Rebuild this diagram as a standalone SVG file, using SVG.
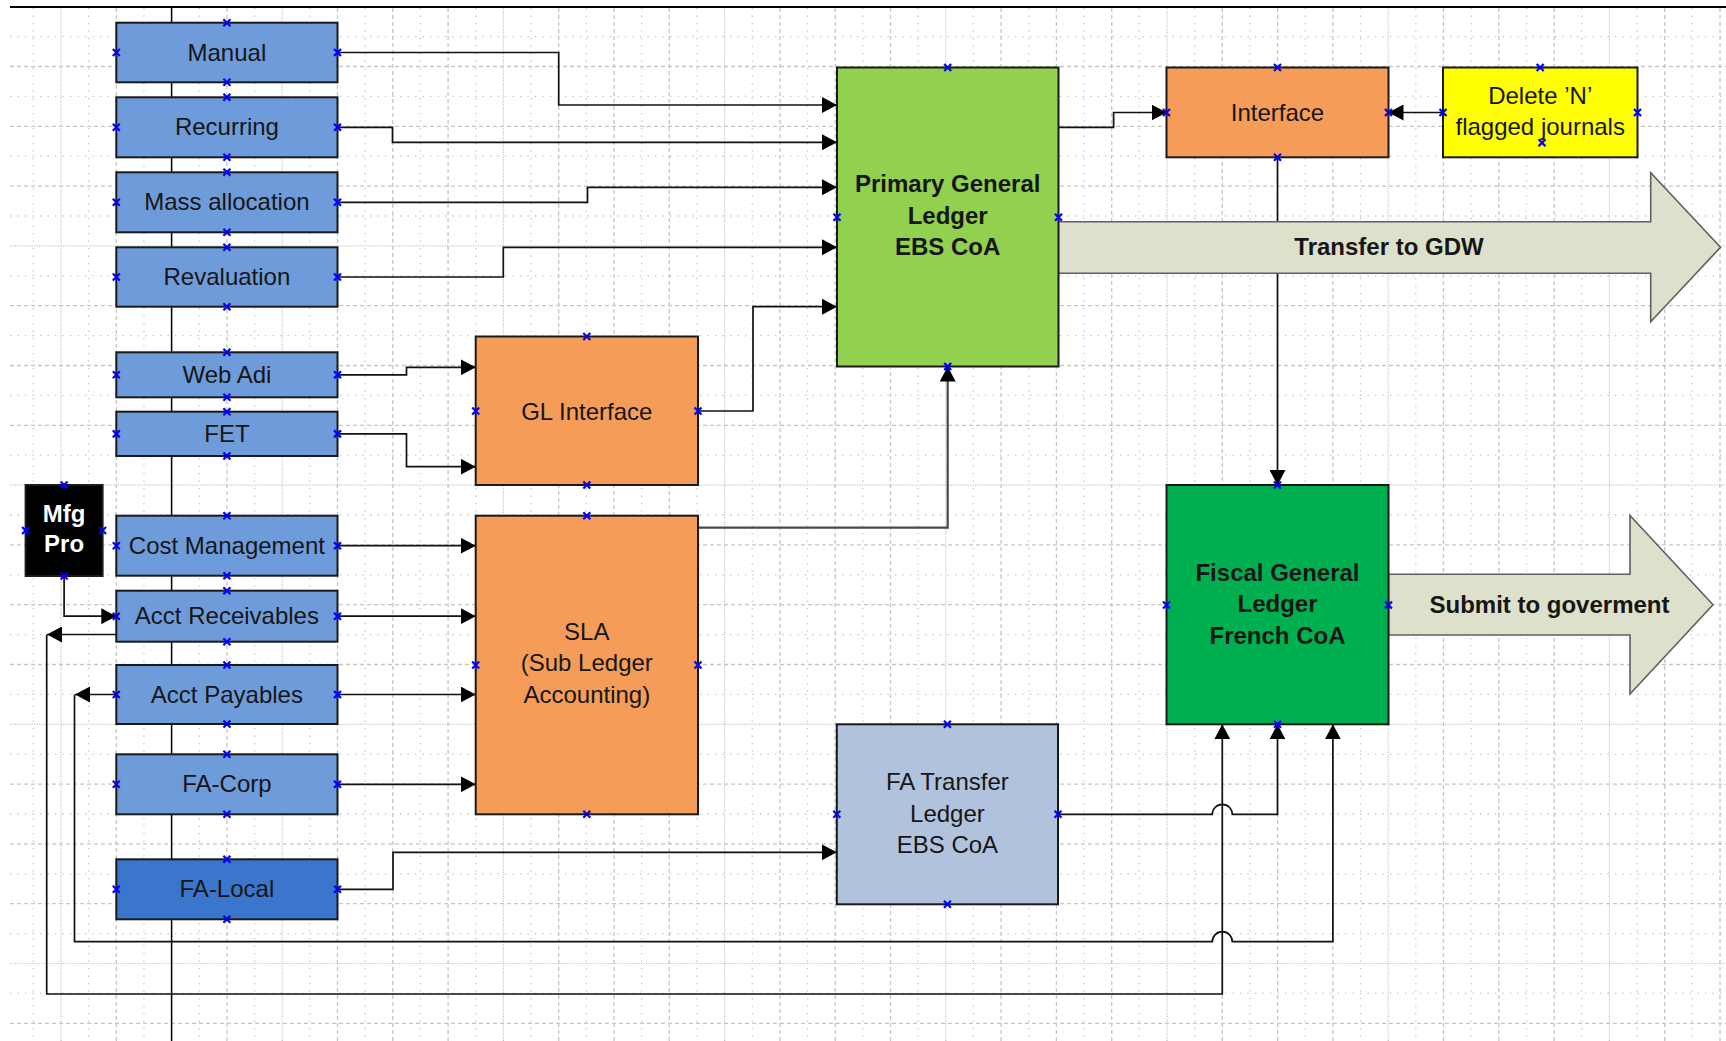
<svg xmlns="http://www.w3.org/2000/svg" width="1726" height="1041" viewBox="0 0 1726 1041">
<defs>
<style>
.g1{fill:none;stroke:#c2c2c2;stroke-width:1.3;stroke-dasharray:1.3 6.2}
.g2{fill:none;stroke:#c6c6c6;stroke-width:1.3;stroke-dasharray:4 3}
.g3{fill:none;stroke:#c2c2c2;stroke-width:1.2;stroke-dasharray:1.1 1.3}
.box{stroke:#1a1a1a;stroke-width:2}
.blue{fill:#6E9CDA}
.dblue{fill:#3A76CC}
.orange{fill:#F59D58}
.lgreen{fill:#92D050}
.green{fill:#00B050}
.yellow{fill:#FFFF00}
.steel{fill:#B1C3DC}
.black{fill:#000}
.bigarrow{fill:#DDE0CA;stroke:#5f5f5f;stroke-width:1.6}
.t{font-family:"Liberation Sans",Arial,Helvetica,sans-serif;font-size:24px;fill:#161616;text-anchor:middle}
.b{font-weight:bold}
.w{fill:#fff}
.c{fill:none;stroke:#111;stroke-width:1.7}
.cp{fill:none;stroke:#0000ff;stroke-width:2.2}
</style>
<marker id="ah" markerUnits="userSpaceOnUse" markerWidth="16" markerHeight="16" refX="15" refY="8" orient="auto" viewBox="0 0 16 16"><path d="M0,0L15,8L0,16z" fill="#000"/></marker>
<path id="cp" d="M-3.5,-3.5L3.5,3.5M3.5,-3.5L-3.5,3.5" class="cp"/>
</defs>
<rect x="0" y="0" width="1726" height="1041" fill="#fff"/>
<g id="grid">
<path class="g1" d="M33.35 8V1041M88.65 8V1041M143.95 8V1041M199.25 8V1041M254.55 8V1041M309.85 8V1041M365.15 8V1041M420.45 8V1041M475.75 8V1041M531.05 8V1041M586.35 8V1041M641.65 8V1041M696.95 8V1041M752.25 8V1041M807.55 8V1041M862.85 8V1041M918.15 8V1041M973.45 8V1041M1028.75 8V1041M1084.05 8V1041M1139.35 8V1041M1194.65 8V1041M1249.95 8V1041M1305.25 8V1041M1360.55 8V1041M1415.85 8V1041M1471.15 8V1041M1526.45 8V1041M1581.75 8V1041M1637.05 8V1041M1692.35 8V1041M10 36.6H1726M10 96.4H1726M10 156.2H1726M10 216H1726M10 275.8H1726M10 335.6H1726M10 395.4H1726M10 455.2H1726M10 515H1726M10 574.8H1726M10 634.6H1726M10 694.4H1726M10 754.2H1726M10 814H1726M10 873.8H1726M10 933.6H1726M10 993.4H1726"/>
<path class="g2" d="M116.3 8V1041M171.6 8V1041M226.9 8V1041M337.5 8V1041M392.8 8V1041M448.1 8V1041M558.7 8V1041M614 8V1041M669.3 8V1041M779.9 8V1041M835.2 8V1041M890.5 8V1041M1001.1 8V1041M1056.4 8V1041M1111.7 8V1041M1222.3 8V1041M1277.6 8V1041M1332.9 8V1041M1443.5 8V1041M1498.8 8V1041M1554.1 8V1041M1664.7 8V1041M1720 8V1041M10 66.5H1726M10 126.3H1726M10 186.1H1726M10 305.7H1726M10 365.5H1726M10 425.3H1726M10 544.9H1726M10 604.7H1726M10 664.5H1726M10 784.1H1726M10 843.9H1726M10 903.7H1726M10 1023.3H1726"/>
<path class="g3" d="M61 8V1041M282.2 8V1041M503.4 8V1041M724.6 8V1041M945.8 8V1041M1167 8V1041M1388.2 8V1041M1609.4 8V1041M10 245.9H1726M10 485.1H1726M10 724.3H1726M10 963.5H1726"/>
<path d="M10 7H1726" stroke="#000" stroke-width="2"/>
<path d="M171.6 7V1041" stroke="#000" stroke-width="1.5"/>
</g>
<g id="connectors" class="c">
<path d="M337.5,52.5H558.7V105H837" marker-end="url(#ah)"/>
<path d="M337.5,127.3H392.5V142.3H837" marker-end="url(#ah)"/>
<path d="M337.5,202.3H587.5V187.3H837" marker-end="url(#ah)"/>
<path d="M337.5,277H503.3V247.3H837" marker-end="url(#ah)"/>
<path d="M698,411H753V306.7H837" marker-end="url(#ah)"/>
<path d="M337.5,374.8H406.5V367.3H475.7" marker-end="url(#ah)"/>
<path d="M337.5,433.9H406.5V466.7H475.7" marker-end="url(#ah)"/>
<path d="M337.5,545.7H475.7" marker-end="url(#ah)"/>
<path d="M337.5,616.2H475.7" marker-end="url(#ah)"/>
<path d="M337.5,694.5H475.7" marker-end="url(#ah)"/>
<path d="M337.5,784.3H475.7" marker-end="url(#ah)"/>
<path d="M337.5,889.3H393V852.3H836.8" marker-end="url(#ah)"/>
<path d="M698,575V527.7H947.7V366.5" stroke="#4a4a4a" stroke-width="2.2" marker-end="url(#ah)"/>
<path d="M1058.5,127.3H1113.6V112.5H1166.5" marker-end="url(#ah)"/>
<path d="M1443,112.5H1388.5" marker-end="url(#ah)"/>
<path d="M1277.5,157.3V485" marker-end="url(#ah)"/>
<path d="M1058,814.3H1212.3A10,10 0 0 1 1232.3,814.3H1277.5V724.3" marker-end="url(#ah)"/>
<path d="M64.1,576V616.2H116.3" marker-end="url(#ah)"/>
<path d="M116.3,634.5H47" marker-end="url(#ah)"/>
<path d="M46.7,634.5V994H1222.3V724.3" marker-end="url(#ah)"/>
<path d="M116.3,694.5H75" marker-end="url(#ah)"/>
<path d="M74.5,694.5V941.7H1212.3A10,10 0 0 1 1232.3,941.7H1332.9V724.3" marker-end="url(#ah)"/>
</g>
<g id="transfer-gdw">
<polygon class="bigarrow" points="1058,221.7 1650.7,221.7 1650.7,172.7 1720.5,247.3 1650.7,321.7 1650.7,273.3 1058,273.3"/>
<text class="t b" x="1389" y="254.5">Transfer to GDW</text>
</g>
<g id="submit-gov">
<polygon class="bigarrow" points="1388.5,574.3 1630,574.3 1630,515.5 1713,604.7 1630,694 1630,635 1388.5,635"/>
<text class="t b" x="1549.5" y="612.5">Submit to goverment</text>
</g>
<g id="manual">
<rect class="box blue" x="116.3" y="22.7" width="221.2" height="59.6"/>
<text class="t" x="226.9" y="60.5">Manual</text>
<use href="#cp" x="226.9" y="22.7"/><use href="#cp" x="226.9" y="82.3"/><use href="#cp" x="116.3" y="52.5"/><use href="#cp" x="337.5" y="52.5"/>
</g>
<g id="recurring">
<rect class="box blue" x="116.3" y="97.3" width="221.2" height="60"/>
<text class="t" x="226.9" y="135.3">Recurring</text>
<use href="#cp" x="226.9" y="97.3"/><use href="#cp" x="226.9" y="157.3"/><use href="#cp" x="116.3" y="127.3"/><use href="#cp" x="337.5" y="127.3"/>
</g>
<g id="mass-allocation">
<rect class="box blue" x="116.3" y="172.3" width="221.2" height="60"/>
<text class="t" x="226.9" y="210.3">Mass allocation</text>
<use href="#cp" x="226.9" y="172.3"/><use href="#cp" x="226.9" y="232.3"/><use href="#cp" x="116.3" y="202.3"/><use href="#cp" x="337.5" y="202.3"/>
</g>
<g id="revaluation">
<rect class="box blue" x="116.3" y="247.3" width="221.2" height="59.4"/>
<text class="t" x="226.9" y="285">Revaluation</text>
<use href="#cp" x="226.9" y="247.3"/><use href="#cp" x="226.9" y="306.7"/><use href="#cp" x="116.3" y="277"/><use href="#cp" x="337.5" y="277"/>
</g>
<g id="web-adi">
<rect class="box blue" x="116.3" y="352.3" width="221.2" height="45"/>
<text class="t" x="226.9" y="382.8">Web Adi</text>
<use href="#cp" x="226.9" y="352.3"/><use href="#cp" x="226.9" y="397.3"/><use href="#cp" x="116.3" y="374.8"/><use href="#cp" x="337.5" y="374.8"/>
</g>
<g id="fet">
<rect class="box blue" x="116.3" y="411.7" width="221.2" height="44.3"/>
<text class="t" x="226.9" y="441.9">FET</text>
<use href="#cp" x="226.9" y="411.7"/><use href="#cp" x="226.9" y="456"/><use href="#cp" x="116.3" y="433.9"/><use href="#cp" x="337.5" y="433.9"/>
</g>
<g id="mfg-pro">
<rect class="box black" x="25.6" y="485" width="77" height="91"/>
<text class="t b w" x="64.1" y="521.7">Mfg</text>
<text class="t b w" x="64.1" y="552.3">Pro</text>
<use href="#cp" x="64.1" y="485"/><use href="#cp" x="64.1" y="576"/><use href="#cp" x="25.6" y="530.5"/><use href="#cp" x="102.6" y="530.5"/>
</g>
<g id="cost-management">
<rect class="box blue" x="116.3" y="515.7" width="221.2" height="60"/>
<text class="t" x="226.9" y="553.7">Cost Management</text>
<use href="#cp" x="226.9" y="515.7"/><use href="#cp" x="226.9" y="575.7"/><use href="#cp" x="116.3" y="545.7"/><use href="#cp" x="337.5" y="545.7"/>
</g>
<g id="acct-receivables">
<rect class="box blue" x="116.3" y="590.7" width="221.2" height="51"/>
<text class="t" x="226.9" y="624.2">Acct Receivables</text>
<use href="#cp" x="226.9" y="590.7"/><use href="#cp" x="226.9" y="641.7"/><use href="#cp" x="116.3" y="616.2"/><use href="#cp" x="337.5" y="616.2"/>
</g>
<g id="acct-payables">
<rect class="box blue" x="116.3" y="665" width="221.2" height="59"/>
<text class="t" x="226.9" y="702.5">Acct Payables</text>
<use href="#cp" x="226.9" y="665"/><use href="#cp" x="226.9" y="724"/><use href="#cp" x="116.3" y="694.5"/><use href="#cp" x="337.5" y="694.5"/>
</g>
<g id="fa-corp">
<rect class="box blue" x="116.3" y="754.3" width="221.2" height="60"/>
<text class="t" x="226.9" y="792.3">FA-Corp</text>
<use href="#cp" x="226.9" y="754.3"/><use href="#cp" x="226.9" y="814.3"/><use href="#cp" x="116.3" y="784.3"/><use href="#cp" x="337.5" y="784.3"/>
</g>
<g id="fa-local">
<rect class="box dblue" x="116.3" y="859.3" width="221.2" height="60"/>
<text class="t" x="226.9" y="897.3">FA-Local</text>
<use href="#cp" x="226.9" y="859.3"/><use href="#cp" x="226.9" y="919.3"/><use href="#cp" x="116.3" y="889.3"/><use href="#cp" x="337.5" y="889.3"/>
</g>
<g id="gl-interface">
<rect class="box orange" x="475.7" y="336.5" width="222.3" height="148.5"/>
<text class="t" x="586.8" y="420">GL Interface</text>
<use href="#cp" x="586.8" y="336.5"/><use href="#cp" x="586.8" y="485"/><use href="#cp" x="475.7" y="411"/><use href="#cp" x="698" y="411"/>
</g>
<g id="sla">
<rect class="box orange" x="475.7" y="515.7" width="222.3" height="298.6"/>
<text class="t" x="586.8" y="639.5">SLA</text>
<text class="t" x="586.8" y="671">(Sub Ledger</text>
<text class="t" x="586.8" y="703">Accounting)</text>
<use href="#cp" x="586.8" y="515.7"/><use href="#cp" x="586.8" y="814.3"/><use href="#cp" x="475.7" y="665"/><use href="#cp" x="698" y="665"/>
</g>
<g id="primary-gl">
<rect class="box lgreen" x="837" y="67.5" width="221.5" height="299"/>
<text class="t b" x="947.7" y="192">Primary General</text>
<text class="t b" x="947.7" y="223.5">Ledger</text>
<text class="t b" x="947.7" y="255">EBS CoA</text>
<use href="#cp" x="947.7" y="67.5"/><use href="#cp" x="947.7" y="366.5"/><use href="#cp" x="837" y="217.3"/><use href="#cp" x="1058.5" y="217.3"/>
</g>
<g id="interface">
<rect class="box orange" x="1166.5" y="67.5" width="222" height="89.8"/>
<text class="t" x="1277.5" y="120.5">Interface</text>
<use href="#cp" x="1277.5" y="67.5"/><use href="#cp" x="1277.5" y="157.3"/><use href="#cp" x="1166.5" y="112.5"/><use href="#cp" x="1388.5" y="112.5"/>
</g>
<g id="delete-n">
<rect class="box yellow" x="1443" y="67.5" width="194.5" height="89.8"/>
<text class="t" x="1540.2" y="103.5">Delete ’N’</text>
<text class="t" x="1540.2" y="135">flagged journals</text>
<use href="#cp" x="1540.2" y="67.5"/><use href="#cp" x="1542" y="142.7"/><use href="#cp" x="1443" y="112.5"/><use href="#cp" x="1637.5" y="112.5"/>
</g>
<g id="fiscal-gl">
<rect class="box green" x="1166.5" y="485" width="222" height="239.3"/>
<text class="t b" x="1277.5" y="580.5">Fiscal General</text>
<text class="t b" x="1277.5" y="612">Ledger</text>
<text class="t b" x="1277.5" y="643.5">French CoA</text>
<use href="#cp" x="1277.5" y="485"/><use href="#cp" x="1277.5" y="724.3"/><use href="#cp" x="1166.5" y="605"/><use href="#cp" x="1388.5" y="605"/>
</g>
<g id="fa-transfer">
<rect class="box steel" x="836.8" y="724.3" width="221.2" height="180"/>
<text class="t" x="947.4" y="790">FA Transfer</text>
<text class="t" x="947.4" y="821.5">Ledger</text>
<text class="t" x="947.4" y="853">EBS CoA</text>
<use href="#cp" x="947.4" y="724.3"/><use href="#cp" x="947.4" y="904.3"/><use href="#cp" x="836.8" y="814.3"/><use href="#cp" x="1058" y="814.3"/>
</g>
</svg>
